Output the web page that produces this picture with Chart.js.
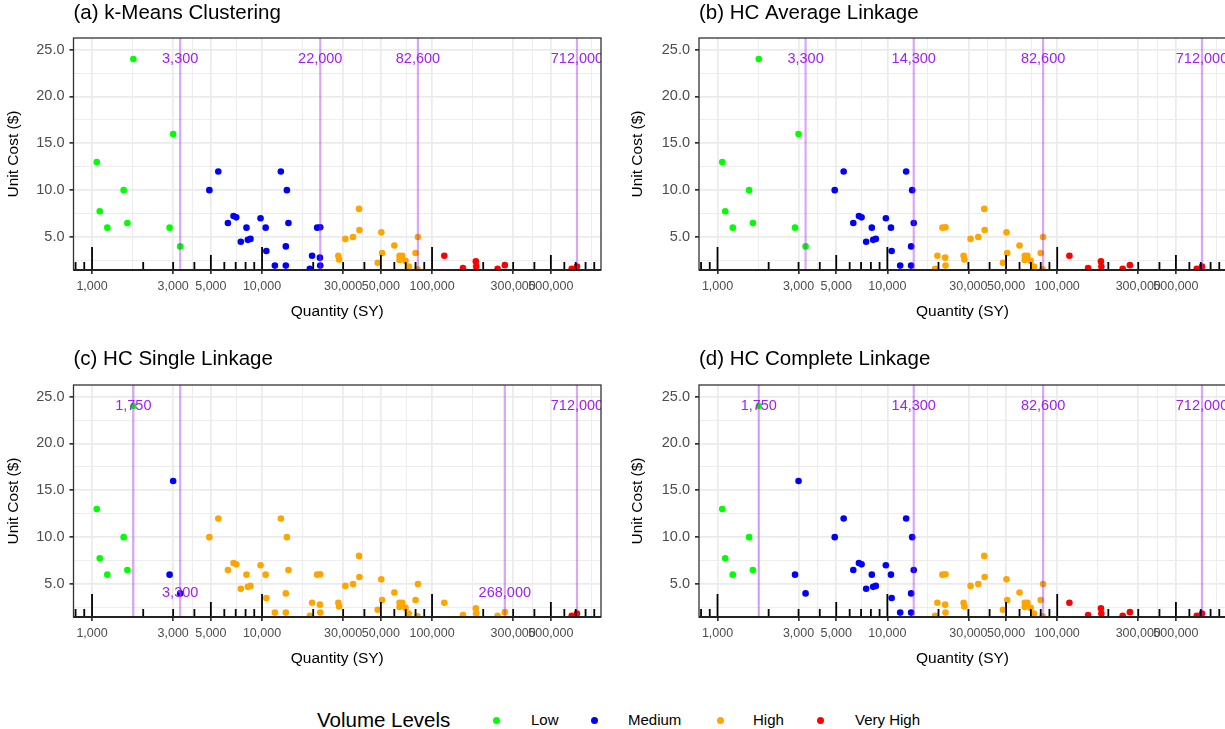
<!DOCTYPE html>
<html><head><meta charset="utf-8">
<script src="https://cdn.jsdelivr.net/npm/chart.js@4.4.0/dist/chart.umd.min.js"></script>
<style>
html,body{margin:0;padding:0;background:#fff;}
body{width:1225px;height:729px;position:relative;overflow:hidden;font-family:"Liberation Sans",Arial,sans-serif;}
canvas{position:absolute;display:block;}
#legend{position:absolute;left:0;top:706px;width:1225px;height:28px;color:#000;}
#legend span{position:absolute;white-space:nowrap;line-height:28px;top:0;}
#legend i{position:absolute;width:7px;height:7px;border-radius:50%;top:10.5px;}
</style></head><body>
<canvas id="pa" width="612" height="342" style="left:0;top:0"></canvas>
<canvas id="pb" width="616" height="342" style="left:612px;top:0"></canvas>
<canvas id="pc" width="612" height="342" style="left:0;top:347px"></canvas>
<canvas id="pd" width="616" height="342" style="left:612px;top:347px"></canvas>
<div id="legend"></div>
<script>
// ---- data ----
const QTY = [1066,1110,1230,1535,1614,1750,2860,3000,3300,
  4900,5530,6300,6800,7050,7500,8100,8250,8550,9800,10500,10600,11900,12900,14000,13800,13800,14300,19100,19700,21100,22000,21900,22000,
  28100,28400,30900,34300,37200,37400,47900,50300,50800,60000,64400,66800,64400,69800,73000,80000,82600,82000,
  118000,152000,181000,182000,243000,268000,663000,712000];
const COST = [13,7.75,6,10,6.5,24,6,16,4,
  10,12,6.5,7.25,7.1,4.5,6,4.7,4.8,7,6,3.5,1.95,12,10,4,1.95,6.5,1.6,3,6,6.05,2.8,1.95,
  3,2.6,4.8,5,8,5.75,2.25,5.5,3.3,4.1,3.0,3.0,2.55,2.45,1.85,3.3,5,1.55,
  3,1.7,2.4,1.85,1.6,2,1.6,1.85];
const LEVELS = ['Low','Medium','High','Very High'];
const LEVEL_COLORS = ['#00FF00','#0000FF','#FFA500','#FF0000'];
const PANEL_TITLES = ['(a) k-Means Clustering','(b) HC Average Linkage','(c) HC Single Linkage','(d) HC Complete Linkage'];
const BOUNDS_A = [3300,22000,82600,712000];
const BOUNDS_B = [3300,14300,82600,712000];
const BOUNDS_C = [1750,3300,268000,712000];
const BOUNDS_D = [1750,14300,82600,712000];
const LABEL_Y_A = [24,24,24,24];
const LABEL_Y_B = [24,24,24,24];
const LABEL_Y_C = [24,4,4,24];
const LABEL_Y_D = [24,24,24,24];
const X_BREAKS = [1000,3000,5000,10000,30000,50000,100000,300000,500000];
const X_MINOR = [1732,3873,7071,17321,38730,70711,173205,387298,866025];
const Y_BREAKS = [5,10,15,20,25];
const Y_MINOR = [2.5,7.5,12.5,17.5,22.5];
const X_MIN = 778, X_MAX = 986000, Y_MIN = 1.48, Y_MAX = 26.24;
const LOGTICK_DECADES = [100,1000,10000,100000];

const FONT = '"Liberation Sans", Arial, sans-serif';
Chart.defaults.font.family = FONT;

function fmt(v){ return String(Math.round(v)).replace(/\B(?=(\d{3})+(?!\d))/g, ','); }

const decor = {
  id: 'decor',
  afterDatasetsDraw(chart, args, o) {
    const {ctx, chartArea: a, scales: {x, y}} = chart;
    ctx.save();
    ctx.beginPath(); ctx.rect(a.left, a.top - 1, a.width, a.height + 2); ctx.clip();
    // log ticks
    ctx.strokeStyle = '#000'; ctx.lineWidth = 1.8;
    for (const d of LOGTICK_DECADES) for (let m = 1; m <= 9; m++) {
      const v = m * d; if (v < X_MIN || v > X_MAX) continue;
      const px = x.getPixelForValue(v);
      const len = m === 1 ? 23 : (m === 5 ? 15 : 8);
      ctx.beginPath(); ctx.moveTo(px, a.bottom); ctx.lineTo(px, a.bottom - len); ctx.stroke();
    }
    // boundary labels
    ctx.fillStyle = '#A020F0'; ctx.font = '14.5px ' + FONT; ctx.textAlign = 'center'; ctx.textBaseline = 'middle';
    o.bounds.forEach((b, i) => ctx.fillText(fmt(b), x.getPixelForValue(b), y.getPixelForValue(o.labelY[i])));
    ctx.restore();
    // frame
    ctx.save();
    ctx.strokeStyle = '#333333'; ctx.lineWidth = 1.3;
    ctx.strokeRect(a.left, a.top, a.width, a.height);
    ctx.strokeStyle = '#222'; ctx.lineWidth = 2;
    ctx.beginPath(); ctx.moveTo(a.left, a.bottom); ctx.lineTo(a.right, a.bottom); ctx.stroke();
    // title
    ctx.fillStyle = '#000'; ctx.font = '20.5px ' + FONT; ctx.textAlign = 'left'; ctx.textBaseline = 'middle';
    ctx.fillText(o.title, a.left, o.titleY);
    ctx.restore();
  }
};

const X_TICKS = X_BREAKS.concat(X_MINOR).sort((p, q) => p - q);
const Y_TICKS = Y_BREAKS.concat(Y_MINOR).sort((p, q) => p - q);

function makeChart(id, title, bounds, labelY, padLeft, yWidth, padRight, titleY) {
  const cut = bounds.slice(0, 3);
  const groups = LEVELS.map(() => []);
  QTY.forEach((q, i) => {
    const lvl = cut.filter(b => q > b).length;
    groups[lvl].push({x: q, y: COST[i]});
  });
  const pointSets = groups.map((g, k) => ({
    label: LEVELS[k], data: g, backgroundColor: LEVEL_COLORS[k], borderWidth: 0,
    pointRadius: 3.3, order: 2, clip: 0
  }));
  const lineSets = bounds.map(b => ({
    type: 'line', data: [{x: b, y: Y_MIN}, {x: b, y: Y_MAX}],
    borderColor: 'rgba(160,32,240,0.4)', borderWidth: 2.2, pointRadius: 0, order: 1, clip: 0
  }));
  return new Chart(document.getElementById(id), {
    type: 'scatter',
    data: {datasets: pointSets.concat(lineSets)},
    options: {
      responsive: false, animation: false, events: [],
      layout: {autoPadding: false, padding: {left: padLeft, top: 38, right: padRight, bottom: 0}},
      plugins: {legend: {display: false}, tooltip: {enabled: false},
        decor: {bounds: bounds, labelY: labelY, title: title, titleY: titleY}},
      scales: {
        x: {
          type: 'logarithmic', min: X_MIN, max: X_MAX, bounds: 'data',
          afterBuildTicks: s => { s.ticks = X_TICKS.map(v => ({value: v})); },
          afterFit: s => { s.height = 72; },
          ticks: {autoSkip: false, maxRotation: 0, minRotation: 0, padding: 5, color: '#4d4d4d',
            font: {size: 12.5}, callback: v => X_BREAKS.includes(v) ? fmt(v) : ''},
          grid: {color: '#ebebeb', tickLength: 4,
            lineWidth: c => (c.tick && X_BREAKS.includes(c.tick.value)) ? 1.7 : 0.9,
            tickColor: c => (c.tick && X_BREAKS.includes(c.tick.value)) ? '#333333' : 'rgba(0,0,0,0)'},
          border: {display: false},
          title: {display: true, text: 'Quantity (SY)', color: '#000', font: {size: 15.5}, padding: {top: 0, bottom: 21}}
        },
        y: {
          type: 'linear', min: Y_MIN, max: Y_MAX, bounds: 'data',
          afterBuildTicks: s => { s.ticks = Y_TICKS.map(v => ({value: v})); },
          afterFit: s => { s.width = yWidth; },
          ticks: {autoSkip: false, padding: 5, color: '#4d4d4d', font: {size: 14.5},
            callback: v => Y_BREAKS.includes(v) ? v.toFixed(1) : ''},
          grid: {color: '#ebebeb', tickLength: 4,
            lineWidth: c => (c.tick && Y_BREAKS.includes(c.tick.value)) ? 1.7 : 0.9,
            tickColor: c => (c.tick && Y_BREAKS.includes(c.tick.value)) ? '#333333' : 'rgba(0,0,0,0)'},
          border: {display: false},
          title: {display: true, text: 'Unit Cost ($)', color: '#000', font: {size: 15.5}, padding: {top: 4, bottom: 0}}
        }
      }
    },
    plugins: [decor]
  });
}

makeChart('pa', PANEL_TITLES[0], BOUNDS_A, LABEL_Y_A, 0, 73.5, 11, 13);
makeChart('pb', PANEL_TITLES[1], BOUNDS_B, LABEL_Y_B, 12, 75, 2, 13);
makeChart('pc', PANEL_TITLES[2], BOUNDS_C, LABEL_Y_C, 0, 73.5, 11, 12);
makeChart('pd', PANEL_TITLES[3], BOUNDS_D, LABEL_Y_D, 12, 75, 2, 12);

// ---- legend ----
const LEGEND_DOT_X = [496, 594, 720, 820];
const LEGEND_TEXT_X = [531, 628, 753, 855];
const lg = document.getElementById('legend');
const t = document.createElement('span');
t.textContent = 'Volume Levels'; t.style.left = '317px'; t.style.fontSize = '20.5px';
lg.appendChild(t);
LEVELS.forEach((name, k) => {
  const d = document.createElement('i');
  d.style.left = (LEGEND_DOT_X[k] - 3.5) + 'px'; d.style.background = LEVEL_COLORS[k];
  lg.appendChild(d);
  const s = document.createElement('span');
  s.textContent = name; s.style.left = LEGEND_TEXT_X[k] + 'px'; s.style.fontSize = '15px';
  lg.appendChild(s);
});
</script>
</body></html>
